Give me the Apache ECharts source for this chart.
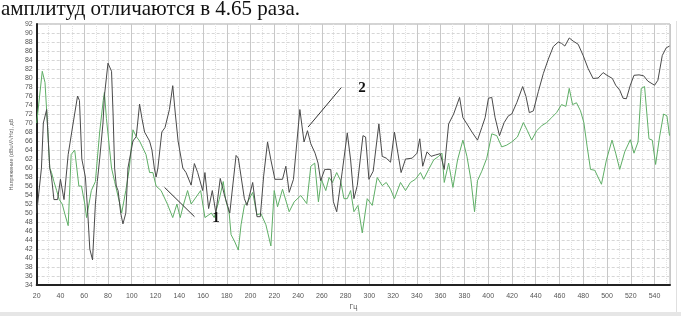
<!DOCTYPE html>
<html>
<head>
<meta charset="utf-8">
<script src="https://cdn.jsdelivr.net/npm/echarts@6/dist/echarts.min.js"></script>
<style>html,body{margin:0;padding:0;background:#fff}#c{width:681px;height:316px}</style>
</head>
<body>
<div id="c"></div>
<script>
// Curve 2 (dark): [frequency Hz, level dB]
var curve2 = [[20,50],[24,60],[25.6,70],[28.4,73],[31,60],[32.5,58],[34.5,53],[37.6,53],[40,57.5],[43,53],[46.5,63],[50.7,70],[54.4,76],[56,75],[58,62],[61,58],[63,50],[64.7,42],[67,39.6],[69.4,52],[71,57],[73,62],[75.8,70],[77,76],[80,83.3],[83,81.5],[84.3,72],[85.6,60],[87,56],[88.5,55],[90.7,50],[92.6,47.6],[95,50],[96.8,60],[98.2,60],[101,66],[103.8,67],[106.6,74.2],[108.6,71],[110.8,68],[115,66],[117,64],[119,60],[120.5,58],[122,60],[125.3,68],[128,69],[131.7,73],[134.5,78.3],[136.7,72],[139,66],[143,60],[145.7,59],[150,56.2],[152.7,61],[155.5,59],[159.7,55],[161.6,59],[164.7,51],[167.8,55],[170.8,50],[174.5,57.7],[178,54],[182.5,50],[187.8,62.8],[189.7,62.2],[194.8,53.2],[197,51.7],[201.8,56.8],[205.4,49.2],[208.2,49.2],[211,58.2],[214.3,65.8],[217.1,61.8],[220.5,57.5],[226.9,57.5],[229.7,60.4],[232.5,54.6],[236.1,57.5],[241.5,73],[245,65.8],[247.9,68.3],[250.7,65.4],[254.3,63.3],[256.8,61.1],[259,57.2],[262.4,59.7],[267.5,59.7],[269.7,52.5],[272.5,50.3],[277.2,59.3],[281.4,67.8],[284.2,61.8],[287,53.2],[289.8,56.1],[294.6,67.2],[296.8,66.9],[299.6,57.5],[303.2,59.3],[308,69.8],[310.8,62.6],[314.2,62.2],[317.8,61.3],[321.1,68],[324,63.3],[326.7,59],[330.4,62],[336,62.2],[340.1,63.3],[342.4,66.5],[344.9,60.4],[348.5,63.6],[351.9,62.6],[355.5,62.9],[359.7,63.2],[363,59.7],[366.7,69.8],[370.9,72],[375.9,75.7],[378.7,71.2],[382.1,69.8],[386.3,68],[391,66.2],[394.6,69],[397.4,71.2],[400.2,75.5],[403,75.7],[405.8,71.2],[409.5,67.2],[413.4,70.1],[417,71.6],[419.8,72],[424,74.5],[429,78.1],[431.8,75.9],[434.6,72.3],[438,72.7],[442.2,77],[446.4,81],[450.6,84.2],[454.8,87],[459,88],[461.7,87.7],[464.5,87.1],[468.2,88.9],[471.5,88.2],[475.7,87.5],[479.9,85],[484.1,82.1],[488.3,79.9],[492.5,80],[496.7,81.2],[500,80.6],[504.5,79.9],[507.3,78.4],[510.7,77.3],[513.5,75.5],[516.3,75.4],[519.6,78.4],[522.7,80.6],[526.9,80.7],[530.8,80.5],[534.4,79.3],[540,78.4],[542.8,79.5],[546.5,85],[549.8,86.7],[552.6,87.1]];

// Curve 1 (green): [frequency Hz, level dB]
var curve1 = [[20,70],[24.7,81.5],[27,79],[29,70],[31,60],[32.5,59],[34.5,57],[36.8,55],[39,53],[41.5,52],[43.5,50],[46.5,47.2],[49,63],[52,64],[55.5,56],[57.7,56],[60.5,52],[62,49],[66,55],[69.4,57],[73,68],[76,75],[77,76.8],[78.7,71],[83,60],[85.6,57],[90,52],[91.5,50],[95,55],[98,60],[101,68.5],[103.8,67],[106.6,66],[112,63],[115,59],[117.8,59],[120.5,56],[124.7,55],[130,52],[133,50],[134.5,49],[138,52],[140.8,49],[143.7,52],[147,55],[150,52],[158,55],[161.6,49],[167,50],[169.4,49],[173.6,53],[177,57],[179,53],[182,50],[183.6,45.2],[186.4,43.8],[189.7,41.8],[192,47.4],[194.8,51.7],[197.6,52.5],[201.8,54.6],[205.4,49.6],[208.7,49.9],[212.9,47.4],[217.1,42.7],[219.9,55],[222.7,51.4],[226.9,55.3],[232.5,50.3],[236.7,52.5],[242.3,53.9],[247.3,52.1],[250.7,60.4],[254,61.1],[257.1,52.5],[259.6,57.5],[263.3,55],[266.1,57.9],[268.9,56.8],[272.5,59],[275.8,57.2],[278.6,53.2],[281.4,53.2],[284.2,55],[287,50.3],[290.4,51.7],[294,45.6],[298.2,53.2],[302.4,51.7],[306.6,57.9],[310.8,56.1],[314.2,56.8],[317.8,55.3],[321.1,53.2],[326.2,56.8],[330.4,55],[334.5,56.8],[338.7,57.5],[343,59],[345.7,57.5],[349.9,59.7],[354.1,61.8],[358.3,62.6],[361.1,63.3],[363,56.8],[366.7,61.1],[370.3,55.7],[374.2,61.8],[378.7,66.2],[382.1,62.6],[385.4,57.5],[388.5,50.3],[391,57.2],[394.6,59.3],[398.8,62.2],[403,67.6],[407.2,67.2],[411.4,64.7],[415.6,65.1],[419.8,65.8],[424.6,66.9],[429.6,70.1],[433,68.3],[436.6,66.2],[440.8,68.3],[445,69.4],[449.2,70.1],[453.4,71.2],[457.5,72.3],[461.7,74.1],[465.4,73.7],[468.2,77.7],[471,74.1],[474.3,74.5],[477.7,72.7],[480.5,70.1],[483.3,64.7],[486.1,59.7],[489.7,59.5],[495.3,56.4],[499.5,61.8],[504.2,66.2],[507.3,63.3],[510.7,59.7],[514.9,63.6],[519.6,66.3],[522.7,63.3],[526.1,65.8],[528.8,77.7],[531.6,78.1],[535.3,66.5],[538.1,66.2],[540.9,60.8],[544.2,66.9],[547.6,72],[550.4,71.6],[552.6,67.2]];

// Annotation leaders (data coordinates) and their labels
var leader1 = [[127.6,55.7],[152.8,49.2]];
var leader2 = [[248.4,69.1],[276.4,77.9]];
var labelPoints = [{name:'1', coord:[171,48.9]},{name:'2', coord:[293.8,77.7]}];

var headerText = 'амплитуд отличаются в 4.65 раза.';
var yName = 'Напряжение (dBuV/\u221AHz), дБ';
var xName = 'Гц';

var chart = echarts.init(document.getElementById('c'), null, {renderer:'canvas'});
var tickFont = {fontFamily:'Arial, Liberation Sans, sans-serif', fontSize:7, color:'#555'};
chart.setOption({
  animation:false,
  backgroundColor:'#fff',
  grid:{left:35, right:11, top:24, bottom:24, show:true, borderColor:'#a8a8a8', borderWidth:1, backgroundColor:'transparent'},
  xAxis:{type:'value', min:20, max:553, interval:20,
    name:xName, nameLocation:'middle', nameGap:15,
    nameTextStyle:{fontFamily:'Arial, Liberation Sans, sans-serif', fontSize:7, color:'#555'},
    axisLine:{show:true, lineStyle:{color:'#222', width:2}},
    axisTick:{show:false},
    axisLabel:Object.assign({margin:7, showMaxLabel:false}, tickFont),
    splitLine:{show:true, lineStyle:{color:'#c8c8c8', width:1}},
    minorTick:{show:false, splitNumber:2},
    minorSplitLine:{show:true, lineStyle:{color:'#e2e2e2', width:1, type:'dotted'}}
  },
  yAxis:{type:'value', min:34, max:92, interval:2,
    name:yName, nameLocation:'middle', nameGap:14, nameRotate:90,
    nameTextStyle:{fontFamily:'Arial, Liberation Sans, sans-serif', fontSize:5.5, color:'#666'},
    axisLine:{show:true, lineStyle:{color:'#222', width:2}},
    axisTick:{show:false},
    axisLabel:Object.assign({margin:4}, tickFont),
    splitLine:{show:true, lineStyle:{color:'#d6d6d6', width:1, type:[3,2]}}
  },
  graphic:[
    {type:'text', left:1, top:-1, style:{text:headerText, font:'21px "Liberation Serif", "Times New Roman", serif', fill:'#111'}},
    {type:'rect', shape:{x:0, y:312, width:681, height:4}, style:{fill:'#e6e6e6'}, silent:true},
    {type:'line', shape:{x1:676.5, y1:21, x2:676.5, y2:312}, style:{stroke:'#e0e0e0', lineWidth:1}, silent:true}
  ],
  series:[
    {type:'line', data:curve2, symbol:'none', lineStyle:{color:'#4a4a4a', width:1}, z:3},
    {type:'line', data:curve1, symbol:'none', lineStyle:{color:'#5fae66', width:1}, z:2},
    {type:'line', data:leader1, symbol:'none', lineStyle:{color:'#333', width:1}, z:4},
    {type:'line', data:leader2, symbol:'none', lineStyle:{color:'#333', width:1}, z:4,
      markPoint:{symbol:'circle', symbolSize:0, data:labelPoints.map(function(p){return {name:p.name, coord:p.coord, value:p.name};}),
        label:{show:true, formatter:'{b}', fontFamily:'"Liberation Serif", "Times New Roman", serif', fontWeight:'bold', fontSize:15, color:'#111'}}}
  ]
});
</script>
</body>
</html>
